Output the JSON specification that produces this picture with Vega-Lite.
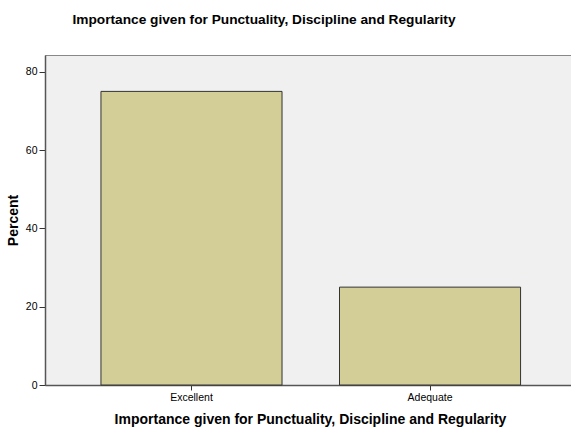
{
  "$schema": "https://vega.github.io/schema/vega-lite/v6.json",
  "width": 526,
  "height": 330,
  "autosize": {"type": "none"},
  "padding": {"left": 45, "top": 55, "right": 0, "bottom": 44},
  "background": "white",
  "config": {
    "font": "Liberation Sans",
    "view": {"fill": "#f0f0f0", "stroke": "#888888", "strokeWidth": 1}
  },
  "title": {
    "text": "Importance given for Punctuality, Discipline and Regularity",
    "fontSize": 13.7,
    "fontWeight": "bold",
    "color": "#000000",
    "anchor": "middle",
    "dx": -44,
    "offset": 28
  },
  "data": {
    "values": [
      {"category": "Excellent", "percent": 75},
      {"category": "Adequate", "percent": 25}
    ]
  },
  "mark": {"type": "bar", "fill": "#d3ce97", "stroke": "#333333", "strokeWidth": 1},
  "encoding": {
    "x": {
      "field": "category",
      "type": "nominal",
      "sort": ["Excellent", "Adequate"],
      "scale": {"paddingInner": 0.241, "paddingOuter": 0.223, "align": 0.526},
      "axis": {
        "title": "Importance given for Punctuality, Discipline and Regularity",
        "titleFontSize": 14,
        "titleFontWeight": "bold",
        "titleColor": "#000000",
        "titleX": 265,
        "titlePadding": 10,
        "labelAngle": 0,
        "labelFontSize": 10.5,
        "labelColor": "#000000",
        "labelPadding": 2,
        "tickSize": 5,
        "tickColor": "#333333",
        "domainColor": "#555555",
        "domainWidth": 1.5
      }
    },
    "y": {
      "field": "percent",
      "type": "quantitative",
      "scale": {"domain": [0, 84.3], "nice": false},
      "axis": {
        "title": "Percent",
        "titleFontSize": 14,
        "titleFontWeight": "bold",
        "titleColor": "#000000",
        "titlePadding": 5,
        "values": [0, 20, 40, 60, 80],
        "grid": false,
        "labelFontSize": 10.5,
        "labelColor": "#000000",
        "labelPadding": 2,
        "tickSize": 6,
        "tickColor": "#333333",
        "domainColor": "#555555",
        "domainWidth": 1.5
      }
    }
  }
}
